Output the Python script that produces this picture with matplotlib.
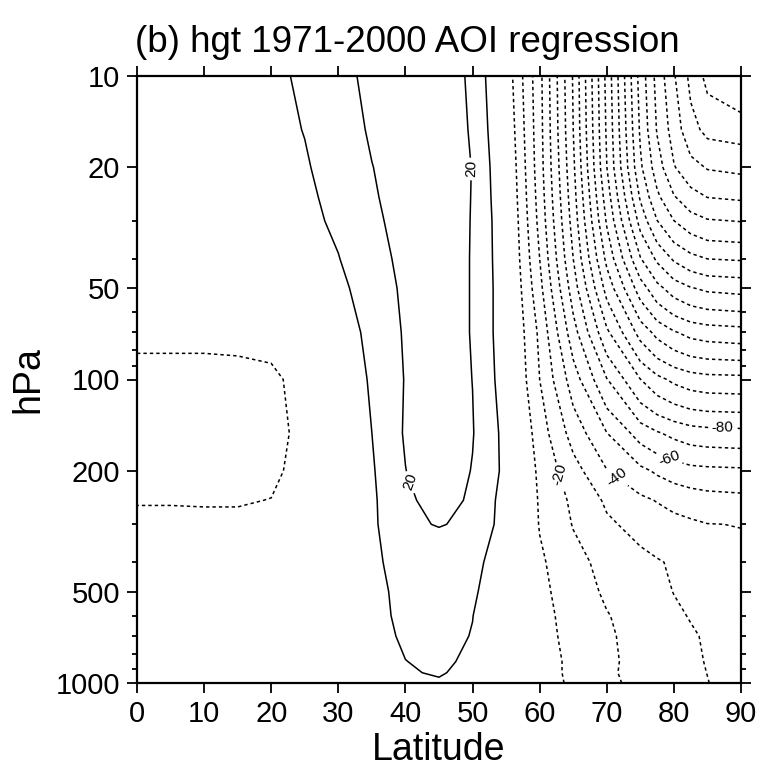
import numpy as np
import matplotlib
matplotlib.use("Agg")
import matplotlib.pyplot as plt
from matplotlib.ticker import LogLocator, NullFormatter, FixedLocator

plt.rcParams['font.family'] = ['Liberation Sans', 'DejaVu Sans']

# ---- data (regression of geopotential height on AOI) ----
lat = [0, 5, 10, 15, 20, 25, 30, 35, 40, 45, 50, 55, 60, 65, 70, 75, 77.5, 80, 82.5, 85, 90]
plev = [1000, 925, 850, 700, 600, 500, 400, 300, 250, 200, 150, 100, 70, 50, 40, 30, 25, 20, 15, 10]

hgt_1000 = [-3, -3, -3, -3, -3, -2, -1, 2, 6, 8, 4, -2, -6, -11.5, -18, -22.5, -24.2, -26, -27.9, -29.8, -33.5]
hgt_925 = [-3, -3, -3, -3, -3, -2, -0.5, 3, 8.5, 11.5, 5, -2, -6, -12, -18.5, -23, -24.8, -26.5, -28.3, -30.1, -34]
hgt_850 = [-3, -3, -3, -3, -3, -2, 0, 4, 9.8, 12.5, 7.5, -2, -6, -12, -18.5, -22.5, -24.2, -26, -28.3, -30.5, -34]
hgt_700 = [-4, -4, -4, -4, -3.5, -2, 0.5, 5, 12, 14, 9.5, -1.5, -6.5, -13, -19, -22.5, -24.8, -27, -29, -31, -35]
hgt_600 = [-4, -4, -4, -4, -3.5, -2, 1, 6, 13, 14.5, 10.2, -1, -7, -13.5, -19.5, -24, -26.2, -28.5, -30.5, -32.5, -36]
hgt_500 = [-5, -5, -5, -5, -4, -2, 1, 6.5, 13.5, 15, 12, 0, -7.5, -15, -21.5, -25.5, -27.8, -30.2, -32, -34, -37]
hgt_400 = [-6, -6, -6, -6, -5, -3, 1, 8, 14, 16, 14, 2, -8.5, -16.5, -23.5, -27.5, -29.3, -31, -33, -35, -38]
hgt_300 = [-8, -8, -8, -8, -7, -4, 1, 8, 19, 20.3, 19, 5, -10.5, -20.5, -28.5, -33, -35, -37, -38.5, -39.8, -40.2]
hgt_250 = [-10.5, -10.5, -10.7, -10.7, -9.8, -5, 1, 8.5, 18, 24, 18.5, 6, -11, -22, -31.5, -38, -40.5, -43, -44.5, -46, -47]
hgt_200 = [-13, -13, -13.5, -13.5, -12, -6.5, 2, 9, 19.8, 27, 19.5, 7.6, -12.3, -26, -39.5, -47.5, -51.5, -54.6, -57, -57.7, -58.3]
hgt_150 = [-14, -14, -14, -14, -13.5, -7, 2, 10, 21, 26, 20.5, 7, -15, -34, -49.9, -64.3, -69.1, -72.6, -75.3, -76.3, -77]
hgt_100 = [-13, -13, -13, -13, -12.5, -5.5, 4, 11, 20.5, 25, 19.9, 5, -20, -44.9, -69.5, -89.8, -97.2, -102, -105.1, -106.5, -107]
hgt_70 = [-8, -8, -8, -7.5, -6, -3, 4, 13, 21, 25, 19.5, 4, -22, -55.8, -88, -113.7, -123, -129, -133, -134.7, -136]
hgt_50 = [-4, -4, -3.5, -2.5, 0, 4.5, 8, 14, 22, 25, 19.5, 4, -27, -65, -103.6, -135.2, -147, -154.8, -159.4, -161.9, -163.3]
hgt_40 = [-2.5, -2.3, -1.5, -0.3, 2, 6, 9.7, 16, 22.7, 25, 19.5, 3.5, -30, -70, -112.5, -149.3, -161.8, -171.4, -177, -180.1, -181]
hgt_30 = [-1, -0.5, 0.5, 2, 4.5, 7.8, 11.5, 18, 23.5, 25, 19.6, 3, -33, -74, -121.2, -163.6, -179.8, -189.9, -195.9, -199.2, -200.4]
hgt_25 = [0, 0.5, 1.5, 3, 5.5, 8, 13, 19, 23.8, 25, 19.7, 2, -34.3, -76, -125.1, -171.4, -188, -199.3, -206.5, -210.3, -211.6]
hgt_20 = [1, 1.5, 2.5, 4, 6.5, 9, 14.5, 19.8, 24, 25, 19.8, 1, -35.6, -78, -129.8, -178.2, -195.1, -209.3, -216.6, -220.7, -222.3]
hgt_15 = [2, 2.5, 3.5, 5, 7.2, 10.3, 16, 21, 24, 25, 19.2, -1, -36.3, -80, -131.5, -181.5, -200.8, -214.5, -226.8, -232.6, -234.4]
hgt_10 = [3, 3.5, 4.5, 6, 8, 11.5, 17.5, 22, 24, 25, 18.5, -3.5, -37, -81, -133, -184, -203.4, -219, -232.5, -243, -250]

plain_levels = [-240, -230, -220, -210, -200, -190, -180, -170, -160, -150,
                -140, -130, -120, -110, -100, -90, -70, -50, -30, -10, 10]
labelled_levels = [-80, -60, -40, -20, 20]
label_spots = [(49.5, 20.1), (40.4, 219), (63.3, 205), (71.5, 209), (79.4, 180), (87.2, 143)]

ytick_vals = [10, 20, 50, 100, 200, 500, 1000]
ytick_text = ["10", "20", "50", "100", "200", "500", "1000"]
xtick_vals = [0, 10, 20, 30, 40, 50, 60, 70, 80, 90]

field = np.array([hgt_1000, hgt_925, hgt_850, hgt_700, hgt_600, hgt_500, hgt_400,
                  hgt_300, hgt_250, hgt_200, hgt_150, hgt_100, hgt_70, hgt_50,
                  hgt_40, hgt_30, hgt_25, hgt_20, hgt_15, hgt_10])

# ---- figure ----
fig = plt.figure(figsize=(7.62, 7.76), dpi=100)
ax = fig.add_axes([137 / 762, 1 - 683 / 776, 604 / 762, 607 / 776])
ax.set_yscale('log')

dash = (0, (2.2, 2.0))


def styles_for(levs):
    return [dash if v < 0 else 'solid' for v in levs]


cs_plain = ax.contour(lat, plev, field, levels=plain_levels, colors='k',
                      linewidths=1.1, linestyles=styles_for(plain_levels))
cs_lab = ax.contour(lat, plev, field, levels=labelled_levels, colors='k',
                    linewidths=1.1, linestyles=styles_for(labelled_levels))
ax.clabel(cs_lab, manual=label_spots, fmt='%d',
          fontsize=11, inline=True, inline_spacing=3)

ax.set_xlim(0, 90)
ax.set_ylim(1000, 10)

ax.xaxis.set_major_locator(FixedLocator(xtick_vals))
ax.set_xticklabels([str(v) for v in xtick_vals])
ax.yaxis.set_major_locator(FixedLocator(ytick_vals))
ax.set_yticklabels(ytick_text)
ax.yaxis.set_minor_locator(LogLocator(base=10, subs=(2, 3, 4, 5, 6, 7, 8, 9)))
ax.yaxis.set_minor_formatter(NullFormatter())

ax.tick_params(which='both', direction='out', top=True, right=True,
               labeltop=False, labelright=False, width=1.3, colors='k')
ax.tick_params(which='major', length=7, labelsize=21, pad=5)
ax.tick_params(which='minor', length=3.8)
for s in ax.spines.values():
    s.set_linewidth(1.6)

ax.set_xlabel('Latitude', fontsize=27, labelpad=3)
ax.set_ylabel('hPa', fontsize=27, labelpad=7)
fig.text(407 / 762, 1 - 43 / 776, '(b) hgt 1971-2000 AOI regression',
         fontsize=26.5, ha='center', va='center')

fig.savefig('out.png', dpi=100)
